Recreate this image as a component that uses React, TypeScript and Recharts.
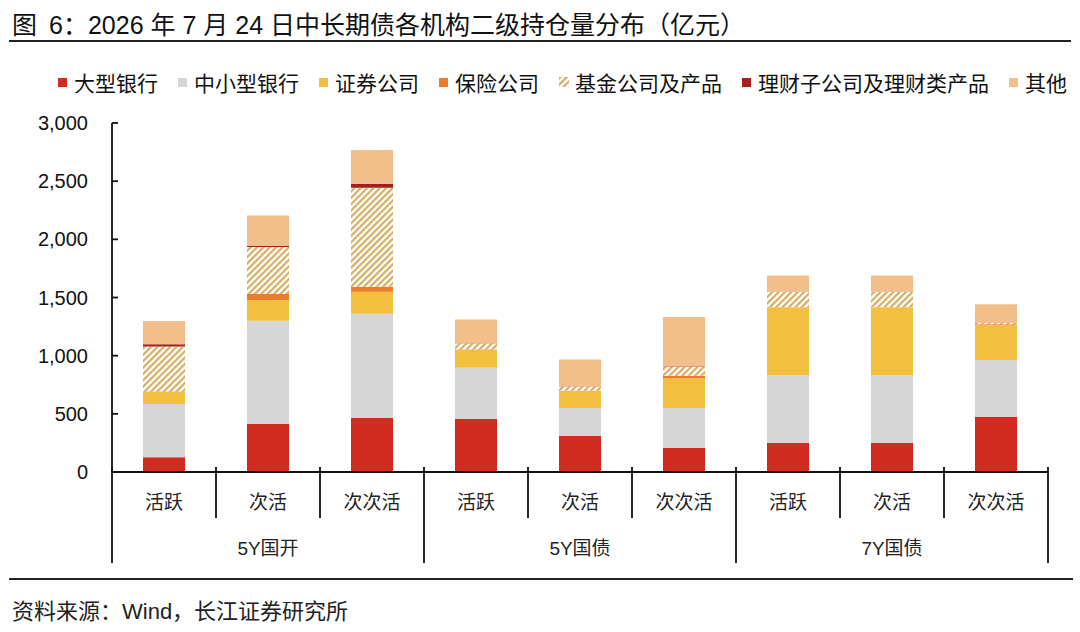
import React from 'react';
import { BarChart, Bar, XAxis, YAxis } from 'recharts';

const categories = ['活跃', '次活', '次次活', '活跃', '次活', '次次活', '活跃', '次活', '次次活'];
const groups = ['5Y国开', '5Y国开', '5Y国开', '5Y国债', '5Y国债', '5Y国债', '7Y国债', '7Y国债', '7Y国债'];

// 亿元
const bigBanks = [126, 413, 467, 458, 309, 209, 252, 252, 476];
const smallBanks = [459, 888, 894, 439, 241, 341, 579, 579, 487];
const securities = [100, 178, 189, 152, 146, 255, 582, 582, 298];
const insurance = [8, 51, 43, 4, 3, 23, 3, 3, 9];
const funds = [385, 404, 851, 51, 37, 77, 132, 132, 10];
const wealth = [20, 9, 34, 2, 2, 5, 2, 2, 3];
const others = [200, 261, 290, 204, 230, 422, 140, 140, 158];

const yTicks = [0, 500, 1000, 1500, 2000, 2500, 3000];

const series = [
  { key: 'bigBanks', name: '大型银行', values: bigBanks, color: '#D12C1F' },
  { key: 'smallBanks', name: '中小型银行', values: smallBanks, color: '#D6D6D6' },
  { key: 'securities', name: '证券公司', values: securities, color: '#F3BF3E' },
  { key: 'insurance', name: '保险公司', values: insurance, color: '#EE7A2B' },
  { key: 'funds', name: '基金公司及产品', values: funds, color: 'url(#hatch)' },
  { key: 'wealth', name: '理财子公司及理财类产品', values: wealth, color: '#A61E1E' },
  { key: 'others', name: '其他', values: others, color: '#F2BF8A' },
];

const data = categories.map((cat, i) => {
  const row: Record<string, string | number> = { cat, group: groups[i] };
  series.forEach((s) => {
    row[s.key] = s.values[i];
  });
  return row;
});

const FONT = '"Liberation Sans", Arial, "Noto Sans CJK SC", sans-serif';
const CHART_W = 1080;
const CHART_H = 600;
const MARGIN = { top: 123, right: 32, bottom: 28, left: 0 };
const Y_W = 112;
const BAND = (CHART_W - MARGIN.left - MARGIN.right - Y_W) / categories.length;

const YTick = (props: any) => {
  const { x, y, payload } = props;
  return (
    <g>
      <line x1={x} x2={x + 6} y1={y} y2={y} stroke="#111" strokeWidth={1.8} />
      <text x={x - 24} y={y} textAnchor="end" dominantBaseline="central" fontSize={20} fill="#111" fontFamily={FONT}>
        {payload.value.toLocaleString('en-US')}
      </text>
    </g>
  );
};

const XTick = (props: any) => {
  const { x, y, index, payload } = props;
  const half = BAND / 2;
  const isGroupStart = index % 3 === 0;
  const isLast = index === categories.length - 1;
  return (
    <g>
      <line x1={x - half} x2={x - half} y1={y - 5} y2={y + (isGroupStart ? 91 : 46)} stroke="#111" strokeWidth={1.8} />
      {isLast && <line x1={x + half} x2={x + half} y1={y - 5} y2={y + 91} stroke="#111" strokeWidth={1.8} />}
      <text x={x} y={y + 30} textAnchor="middle" dominantBaseline="central" fontSize={19} fill="#222" fontFamily={FONT}>
        {payload.value}
      </text>
      {index % 3 === 1 && (
        <text x={x} y={y + 76} textAnchor="middle" dominantBaseline="central" fontSize={19} fill="#222" fontFamily={FONT}>
          {groups[index]}
        </text>
      )}
    </g>
  );
};

function LegendIcon({ color }: { color: string }) {
  if (color.startsWith('url')) {
    return (
      <svg width={10} height={10} style={{ marginRight: 6 }}>
        <defs>
          <pattern id="hatchLegend" width="4.5" height="4.5" patternUnits="userSpaceOnUse" patternTransform="rotate(45)">
            <rect width="4.5" height="4.5" fill="#fff" />
            <rect width="2.2" height="4.5" fill="#D6AE62" />
          </pattern>
        </defs>
        <rect width={10} height={10} fill="url(#hatchLegend)" />
      </svg>
    );
  }
  return <span style={{ width: 9, height: 9, background: color, marginRight: 7, display: 'inline-block' }} />;
}

export default function App() {
  return (
    <div style={{ position: 'absolute', left: 0, top: 0, width: 1080, height: 632, background: '#fff', fontFamily: FONT, color: '#111' }}>
      <div style={{ position: 'absolute', left: 12, top: 10, fontSize: 25, lineHeight: '30px', whiteSpace: 'nowrap' }}>
        图<span style={{ marginLeft: 12 }}>6：2026 年 7 月 24 日中长期债各机构二级持仓量分布（亿元）</span>
      </div>
      <div style={{ position: 'absolute', left: 9, top: 40, width: 1062, height: 2, background: '#222' }} />

      <div style={{ position: 'absolute', left: 58, top: 68, height: 28, display: 'flex', alignItems: 'center', fontSize: 21, whiteSpace: 'nowrap' }}>
        {series.map((s, i) => (
          <div key={s.key} style={{ display: 'flex', alignItems: 'center', marginRight: i < series.length - 1 ? 20 : 0 }}>
            <LegendIcon color={s.color} />
            <span>{s.name}</span>
          </div>
        ))}
      </div>

      <div style={{ position: 'absolute', left: 0, top: 0 }}>
        <BarChart width={CHART_W} height={CHART_H} data={data} margin={MARGIN}>
          <defs>
            <pattern id="hatch" width="4.5" height="4.5" patternUnits="userSpaceOnUse" patternTransform="rotate(45)">
              <rect width="4.5" height="4.5" fill="#fff" />
              <rect width="2.2" height="4.5" fill="#D6AE62" />
            </pattern>
          </defs>
          <YAxis
            width={Y_W}
            domain={[0, 3000]}
            ticks={yTicks}
            interval={0}
            tickLine={false}
            tickSize={0}
            tickMargin={0}
            axisLine={{ stroke: '#111', strokeWidth: 1.8 }}
            tick={<YTick />}
          />
          <XAxis
            dataKey="cat"
            height={100}
            interval={0}
            tickLine={false}
            tickSize={0}
            tickMargin={0}
            axisLine={{ stroke: '#111', strokeWidth: 1.8 }}
            tick={<XTick />}
          />
          {series.map((s) => (
            <Bar key={s.key} dataKey={s.key} name={s.name} stackId="a" fill={s.color} barSize={42} isAnimationActive={false} />
          ))}
        </BarChart>
      </div>

      <div style={{ position: 'absolute', left: 9, top: 578, width: 1064, height: 2, background: '#222' }} />
      <div style={{ position: 'absolute', left: 12, top: 597, fontSize: 22, lineHeight: '30px', color: '#222', whiteSpace: 'nowrap' }}>
        资料来源：Wind，长江证券研究所
      </div>
    </div>
  );
}
